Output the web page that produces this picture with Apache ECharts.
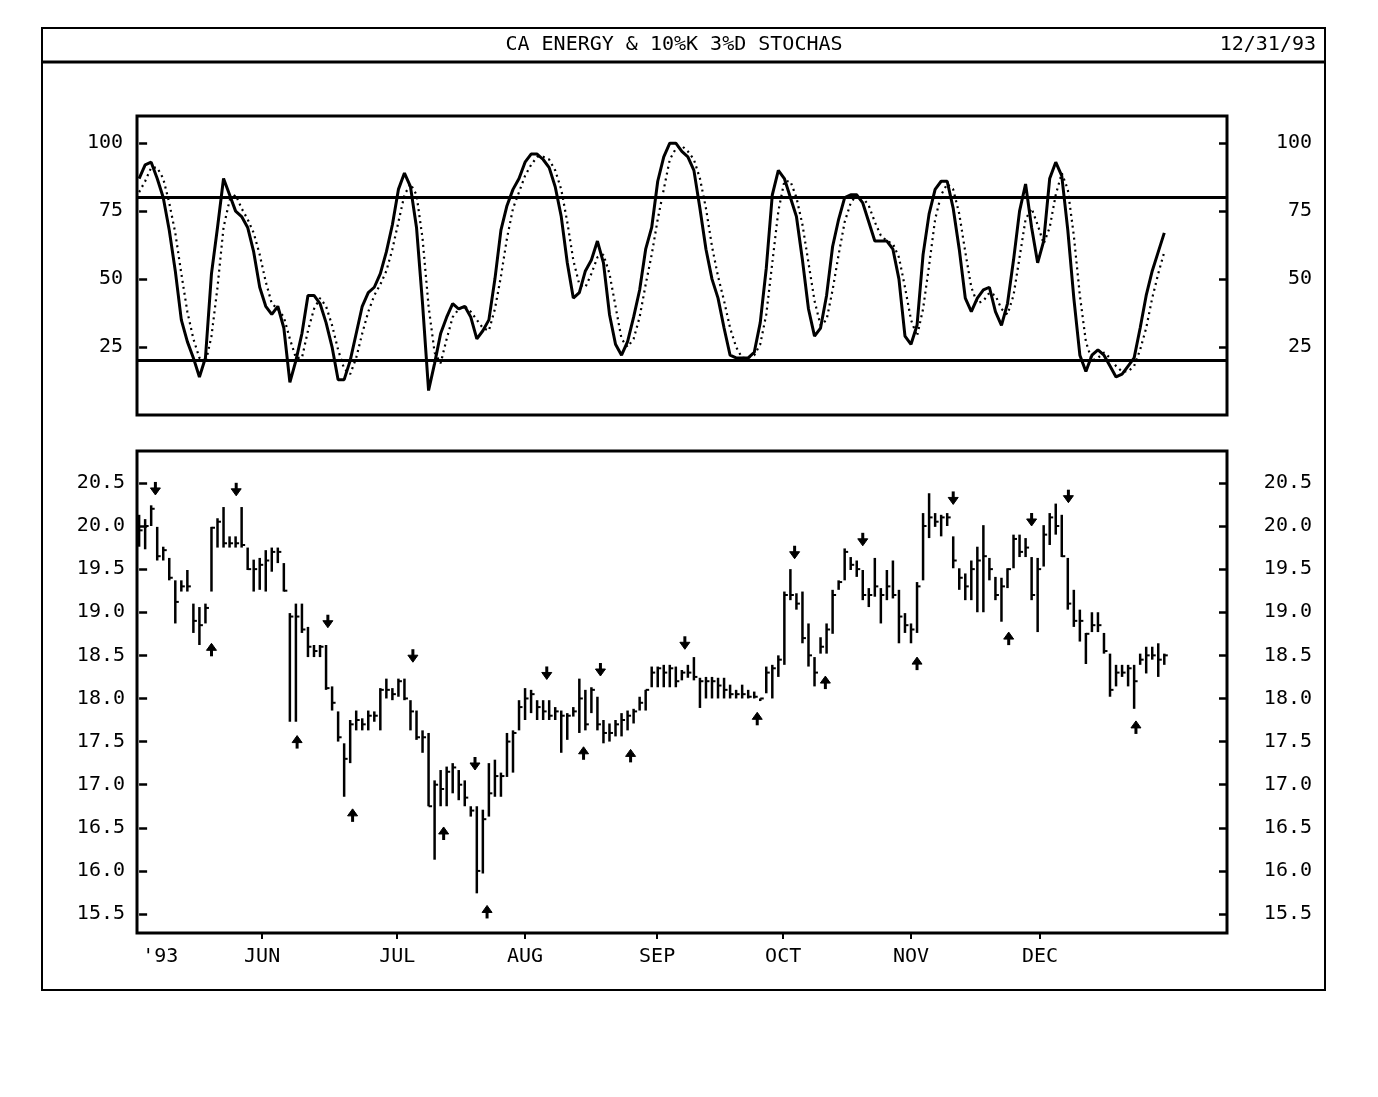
<!DOCTYPE html>
<html>
<head>
<meta charset="utf-8">
<script src="https://cdn.jsdelivr.net/npm/echarts@6/dist/echarts.min.js"></script>
<style>
html,body{margin:0;padding:0;background:#fff;}
#chart{width:1378px;height:1097px;}
</style>
</head>
<body>
<div id="chart"></div>
<script>
// ---------- DATA ----------
const titleText = "CA ENERGY & 10%K 3%D STOCHAS";
const dateText = "12/31/93";

// %K (solid) per trading day
const kValues = [87,92,93,87,80,68,53,35,27,21,14,21,52,69,87,81,75,73,69,60,
47,40,37,40,32,12,20,30,44,44,41,34,25,13,13,20,30,40,45,47,
52,60,70,83,89,84,69,41,9,19,30,36,41,39,40,36,28,31,35,50,
68,77,83,87,93,96,96,94,91,84,73,56,43,45,53,57,64,56,37,26,
22,27,36,46,61,69,86,95,100,100,97,95,90,76,61,50,43,32,22,21,
21,21,23,34,54,81,90,87,80,73,57,39,29,32,44,62,72,80,81,81,
78,71,64,64,64,61,50,29,26,33,59,74,83,86,86,76,61,43,38,43,
46,47,38,33,41,57,75,85,69,56,64,87,93,88,68,43,22,16,22,24,
22,18,14,15,18,21,32,44,53,60,67];

// %D (dotted) per trading day
const dValues = [82,86,91,91,87,78,67,52,38,28,21,19,29,47,69,79,81,76,72,67,
59,49,41,39,36,28,21,21,31,39,43,40,33,24,17,15,21,30,38,44,
48,53,61,71,81,85,81,65,40,23,19,28,36,39,40,38,35,32,31,39,
51,65,76,82,88,92,95,95,94,90,83,71,57,48,47,52,58,59,52,40,
28,25,28,36,48,59,72,83,94,98,99,97,94,87,76,62,51,42,32,25,
21,21,22,26,37,56,75,86,86,80,70,56,42,33,35,46,59,71,78,81,
80,77,71,66,64,63,58,47,35,29,39,55,72,81,85,83,74,60,47,41,
42,45,44,39,37,44,58,72,76,70,63,69,81,89,83,66,44,27,20,21,
23,21,18,16,16,18,24,32,43,52,60];

const refLevels = [80, 20];

// price bars: high / low / close per trading day
const barHigh = [20.13,20.08,20.24,19.99,19.76,19.63,19.37,19.37,19.49,19.10,
19.06,19.10,19.99,20.09,20.22,19.88,19.88,20.22,19.75,19.61,
19.63,19.72,19.75,19.75,19.57,18.99,19.10,19.10,18.83,18.62,
18.62,18.62,18.14,17.85,17.48,17.75,17.86,17.77,17.86,17.85,
18.12,18.23,18.12,18.23,18.23,17.98,17.86,17.63,17.60,17.05,
17.17,17.21,17.25,17.17,17.05,16.75,16.75,16.71,17.25,17.29,
17.14,17.60,17.63,17.98,18.12,18.10,17.98,17.98,17.98,17.90,
17.86,17.83,17.90,18.23,18.10,18.13,18.02,17.75,17.71,17.75,
17.83,17.86,17.88,18.02,18.10,18.37,18.37,18.39,18.39,18.37,
18.33,18.39,18.48,18.24,18.25,18.25,18.24,18.24,18.16,18.10,
18.16,18.10,18.08,18.00,18.37,18.39,18.50,19.24,19.50,19.22,
19.24,18.87,18.48,18.71,18.87,19.26,19.37,19.74,19.64,19.60,
19.49,19.28,19.63,19.28,19.49,19.60,19.26,18.99,18.87,19.35,
20.15,20.38,20.15,20.13,20.15,19.88,19.51,19.45,19.60,19.76,
20.01,19.63,19.41,19.40,19.51,19.90,19.90,19.86,19.64,19.63,
20.01,20.15,20.26,20.13,19.63,19.26,19.03,18.76,19.00,19.00,
18.76,18.52,18.39,18.39,18.39,18.39,18.52,18.60,18.60,18.64,18.52];
const barLow = [19.76,19.73,20.00,19.60,19.60,19.37,18.87,19.24,19.24,18.76,
18.62,18.87,19.24,19.75,19.75,19.75,19.75,19.75,19.49,19.24,
19.26,19.24,19.47,19.57,19.24,17.73,17.73,18.76,18.48,18.48,
18.48,18.10,17.86,17.50,16.86,17.25,17.63,17.63,17.63,17.73,
17.63,18.00,17.98,18.02,17.98,17.63,17.52,17.37,16.75,16.13,
16.75,16.75,16.90,16.82,16.75,16.63,15.74,15.97,16.63,16.86,
16.86,17.09,17.14,17.63,17.75,17.83,17.75,17.75,17.75,17.75,
17.37,17.52,17.79,17.60,17.63,17.83,17.63,17.48,17.50,17.56,
17.56,17.63,17.71,17.86,17.86,18.13,18.13,18.13,18.13,18.13,
18.21,18.24,18.21,17.89,18.00,18.00,18.00,18.00,18.00,18.00,
18.00,18.00,18.00,17.97,18.06,18.00,18.25,18.39,19.14,19.03,
18.64,18.37,18.14,18.52,18.52,18.75,19.26,19.37,19.49,19.41,
19.14,19.06,19.18,18.87,19.14,19.16,18.64,18.76,18.64,18.76,
19.37,19.86,19.99,19.88,20.00,19.51,19.26,19.14,19.14,19.00,
19.00,19.37,19.14,18.89,19.28,19.51,19.64,19.64,19.14,18.77,
19.53,19.78,19.90,19.64,19.03,18.83,18.66,18.40,18.77,18.77,
18.52,18.02,18.14,18.25,18.14,17.88,18.39,18.29,18.45,18.25,18.39];
const barClose = [19.95,20.00,20.20,19.65,19.72,19.40,19.12,19.30,19.30,18.90,
18.85,19.05,19.98,20.05,19.80,19.80,19.80,19.78,19.50,19.50,
19.55,19.60,19.70,19.70,19.25,18.95,18.95,18.80,18.60,18.55,
18.60,18.12,17.95,17.55,17.30,17.70,17.75,17.70,17.80,17.80,
18.10,18.10,18.05,18.20,18.00,17.85,17.55,17.55,16.75,17.00,
16.95,17.15,17.20,17.00,16.85,16.70,16.00,16.60,16.90,17.10,
17.10,17.50,17.60,17.90,18.00,18.05,17.90,17.85,17.80,17.85,
17.80,17.80,17.85,18.00,17.70,18.10,17.70,17.60,17.60,17.70,
17.75,17.80,17.85,17.95,18.10,18.30,18.35,18.30,18.35,18.20,
18.30,18.30,18.25,18.20,18.20,18.20,18.15,18.10,18.05,18.05,
18.05,18.02,18.02,18.00,18.30,18.35,18.45,19.20,19.20,19.10,
18.70,18.50,18.30,18.60,18.80,19.20,19.35,19.70,19.55,19.50,
19.20,19.20,19.30,19.20,19.30,19.20,18.95,18.85,18.80,19.30,
20.00,20.10,20.05,20.10,20.10,19.60,19.40,19.30,19.50,19.60,
19.65,19.50,19.20,19.30,19.50,19.85,19.70,19.75,19.20,19.50,
19.90,20.10,20.00,19.65,19.10,18.90,18.90,18.75,18.85,18.85,
18.55,18.10,18.30,18.30,18.35,18.20,18.45,18.50,18.50,18.45,18.50];

// signal arrows (bar index, price at arrow centre)
const sellArrowIdx   = [2.7, 16.1, 31.3, 45.4, 55.7, 67.6, 76.5, 90.5, 108.7, 120.0, 135.0, 148.0, 154.1];
const sellArrowPrice = [20.43, 20.42, 18.89, 18.49, 17.24, 18.29, 18.33, 18.64, 19.69, 19.84, 20.32, 20.07, 20.34];
const buyArrowIdx    = [12.0, 26.2, 35.4, 50.5, 57.7, 73.7, 81.5, 102.5, 113.8, 129.0, 144.2, 165.3];
const buyArrowPrice  = [18.57, 17.50, 16.65, 16.44, 15.53, 17.37, 17.34, 17.77, 18.19, 18.41, 18.70, 17.67];

// axis ticks / labels
const stochTicks = [25, 50, 75, 100];
const priceTicks = [15.5, 16.0, 16.5, 17.0, 17.5, 18.0, 18.5, 19.0, 19.5, 20.0, 20.5];
const monthLabels = ["'93", "JUN", "JUL", "AUG", "SEP", "OCT", "NOV", "DEC"];
const monthLabelPos = [3.5, 20.4, 42.8, 64.0, 85.9, 106.8, 128.0, 149.4];
const monthTickPos = [20.4, 42.8, 64.0, 85.9, 106.8, 128.0, 149.4];

// ---------- CHART ----------
const FONT = "'DejaVu Sans Mono', 'Liberation Mono', monospace";
const chart = echarts.init(document.getElementById('chart'), null, {renderer: 'canvas'});

const xMin = -0.35, xMax = 180.4;
const stochMin = 0, stochMax = 110;
const priceMin = 15.28, priceMax = 20.87;

function yAxisDef(gridIndex, pos, min, max, ticks, fmt, margin, align) {
  return {
    type: 'value', gridIndex: gridIndex, position: pos, min: min, max: max,
    splitLine: {show: false},
    axisLine: {show: false},
    axisTick: {show: true, inside: true, length: 8, customValues: ticks,
               lineStyle: {color: '#000', width: 2.5}},
    axisLabel: {show: true, customValues: ticks, formatter: fmt, margin: margin, align: align,
                color: '#000', fontFamily: FONT, fontSize: 20}
  };
}

const kData = kValues.map((v, i) => [i, v]);
const dData = dValues.map((v, i) => [i, v]);
const barData = barHigh.map((h, i) => [i, h, barLow[i], barClose[i]]);
const sellData = sellArrowIdx.map((x, i) => [x, sellArrowPrice[i]]);
const buyData = buyArrowIdx.map((x, i) => [x, buyArrowPrice[i]]);

function arrowRender(dir) {
  return function (params, api) {
    const c = api.coord([api.value(0), api.value(1)]);
    const cx = c[0], cy = c[1];
    let stem, head;
    if (dir < 0) { // pointing down
      stem = {x1: cx, y1: cy - 7, x2: cx, y2: cy};
      head = [[cx - 5, cy - 1], [cx + 5, cy - 1], [cx, cy + 6]];
    } else {       // pointing up
      stem = {x1: cx, y1: cy + 7, x2: cx, y2: cy};
      head = [[cx - 5, cy + 1], [cx + 5, cy + 1], [cx, cy - 6]];
    }
    return {type: 'group', children: [
      {type: 'line', shape: stem, style: {stroke: '#000', lineWidth: 3}},
      {type: 'polygon', shape: {points: head}, style: {fill: '#000', stroke: '#000', lineWidth: 1}}
    ]};
  };
}

const option = {
  backgroundColor: '#fff',
  animation: false,
  graphic: [
    {type: 'rect', shape: {x: 42, y: 28, width: 1283, height: 962},
     style: {fill: 'none', stroke: '#000', lineWidth: 2}},
    {type: 'line', shape: {x1: 42, y1: 62, x2: 1325, y2: 62},
     style: {stroke: '#000', lineWidth: 3}},
    {type: 'text', x: 674, y: 45,
     style: {text: titleText, fill: '#000', font: '20px ' + FONT, textAlign: 'center', textVerticalAlign: 'middle'}},
    {type: 'text', x: 1316, y: 45,
     style: {text: dateText, fill: '#000', font: '20px ' + FONT, textAlign: 'right', textVerticalAlign: 'middle'}}
  ],
  grid: [
    {left: 137, top: 116, width: 1090, height: 299, show: true, borderColor: '#000', borderWidth: 3, backgroundColor: '#fff'},
    {left: 137, top: 451, width: 1090, height: 482, show: true, borderColor: '#000', borderWidth: 3, backgroundColor: '#fff'}
  ],
  xAxis: [
    {type: 'value', gridIndex: 0, min: xMin, max: xMax, splitLine: {show: false},
     axisLine: {show: false}, axisTick: {show: false}, axisLabel: {show: false}},
    {type: 'value', gridIndex: 1, min: xMin, max: xMax, splitLine: {show: false},
     axisLine: {show: false},
     axisTick: {show: true, length: 6, customValues: monthTickPos, lineStyle: {color: '#000', width: 2}},
     axisLabel: {show: true, customValues: monthLabelPos, margin: 14, color: '#000', fontFamily: FONT, fontSize: 20,
                 formatter: function (v) {
                   let best = 0, bd = 1e9;
                   monthLabelPos.forEach((p, i) => { const d = Math.abs(p - v); if (d < bd) { bd = d; best = i; } });
                   return monthLabels[best];
                 }}}
  ],
  yAxis: [
    yAxisDef(0, 'left', stochMin, stochMax, stochTicks, v => String(v), 14, 'right'),
    yAxisDef(0, 'right', stochMin, stochMax, stochTicks, v => String(v), 85, 'right'),
    yAxisDef(1, 'left', priceMin, priceMax, priceTicks, v => v.toFixed(1), 12, 'right'),
    yAxisDef(1, 'right', priceMin, priceMax, priceTicks, v => v.toFixed(1), 85, 'right')
  ],
  series: [
    {type: 'line', name: '%D', xAxisIndex: 0, yAxisIndex: 0, data: dData, symbol: 'none',
     lineStyle: {color: '#000', width: 2.2, type: [2, 4]}, z: 3},
    {type: 'line', name: '%K', xAxisIndex: 0, yAxisIndex: 0, data: kData, symbol: 'none',
     lineStyle: {color: '#000', width: 3}, z: 4,
     markLine: {symbol: 'none', silent: true, label: {show: false},
                lineStyle: {color: '#000', width: 3, type: 'solid'},
                data: refLevels.map(v => ({yAxis: v}))}},
    {type: 'custom', name: 'bars', xAxisIndex: 1, yAxisIndex: 2, data: barData, clip: true,
     renderItem: function (params, api) {
       const i = api.value(0);
       const top = api.coord([i, api.value(1)]);
       const bot = api.coord([i, api.value(2)]);
       const cl = api.coord([i, api.value(3)]);
       return {type: 'group', children: [
         {type: 'line', shape: {x1: top[0], y1: top[1], x2: bot[0], y2: bot[1]}, style: {stroke: '#000', lineWidth: 2.5}},
         {type: 'line', shape: {x1: cl[0], y1: cl[1], x2: cl[0] + 3.5, y2: cl[1]}, style: {stroke: '#000', lineWidth: 2}}
       ]};
     }},
    {type: 'custom', name: 'sell', xAxisIndex: 1, yAxisIndex: 2, data: sellData, renderItem: arrowRender(-1)},
    {type: 'custom', name: 'buy', xAxisIndex: 1, yAxisIndex: 2, data: buyData, renderItem: arrowRender(1)}
  ]
};
chart.setOption(option);
</script>
</body>
</html>
